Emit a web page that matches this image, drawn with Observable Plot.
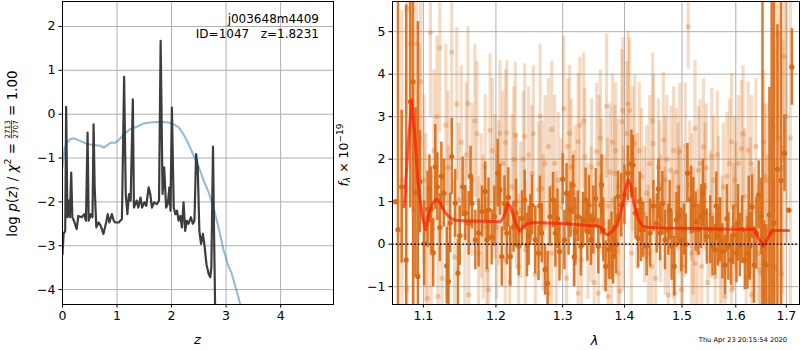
<!DOCTYPE html>
<html><head><meta charset="utf-8">
<script src="https://cdn.jsdelivr.net/npm/d3@7"></script>
<script src="https://cdn.jsdelivr.net/npm/@observablehq/plot@0.6"></script>
<style>
body{margin:0;background:#fff;}
#wrap{position:relative;width:800px;height:350px;overflow:hidden;background:#fff;font-family:"DejaVu Sans",sans-serif;}
#wrap svg{position:absolute;top:0;}
</style></head><body><div id="wrap"></div>
<script>
// ---------- left panel: log p(z) ----------
const zTicks = [0, 1, 2, 3, 4];
const pzTicks = [-4, -3, -2, -1, 0, 1, 2];
const pzZ = [0,0.02,0.05,0.067,0.09,0.116,0.135,0.16,0.18,0.21,0.26,0.29,0.35,0.40,0.43,0.46,0.48,0.52,0.55,0.57,0.59,0.62,0.66,0.70,0.75,0.80,0.83,0.86,0.905,0.94,0.97,1.03,1.09,1.13,1.16,1.19,1.22,1.25,1.29,1.31,1.36,1.39,1.43,1.46,1.50,1.535,1.58,1.61,1.64,1.68,1.73,1.77,1.80,1.835,1.865,1.90,1.93,1.96,1.98,2.006,2.04,2.07,2.10,2.13,2.16,2.19,2.22,2.25,2.28,2.31,2.355,2.39,2.42,2.45,2.48,2.51,2.54,2.575,2.605,2.64,2.68,2.71,2.73,2.76,2.78,2.80,2.82];
const pzLog = [-3.2,-2.73,-2.66,0.17,-2.35,-1.97,-2.35,-1.33,-2.35,-2.43,-2.62,-2.32,-2.35,-2.28,-2.43,-0.42,-2.43,-2.28,-2.35,-0.23,-1.67,-2.58,-2.47,-2.54,-2.73,-2.47,-2.28,-2.47,-2.28,-2.43,-2.47,-2.47,-2.39,0.85,-1.82,-2.28,-1.82,-1.97,0.34,-2.13,-1.97,-2.13,-1.90,-2.13,-2.01,-2.09,-1.67,-1.82,-2.13,-2.01,-2.05,-1.97,1.67,-1.82,-1.21,-2.13,-2.05,-1.67,-2.2,0.15,-2.13,-2.28,-2.2,-2.43,-2.32,-2.58,-2.01,-2.66,-2.43,-2.5,-2.35,-2.5,-2.43,-0.91,-1.21,-2.66,-2.96,-2.73,-3.0,-3.42,-3.64,-3.72,-3.49,-0.74,-2.73,-4.5,-7];
const priorZ = [0,0.04,0.08,0.14,0.21,0.32,0.45,0.57,0.69,0.76,0.83,0.875,0.97,1.03,1.12,1.24,1.36,1.49,1.61,1.79,1.95,2.04,2.13,2.22,2.31,2.40,2.50,2.59,2.68,2.77,2.86,2.95,3.05,3.10,3.14,3.21,3.26,3.32];
const priorLog = [-1.21,-0.76,-0.65,-0.57,-0.55,-0.61,-0.68,-0.70,-0.72,-0.76,-0.70,-0.65,-0.65,-0.59,-0.46,-0.34,-0.29,-0.21,-0.19,-0.17,-0.19,-0.23,-0.30,-0.46,-0.68,-0.93,-1.21,-1.52,-1.78,-2.13,-2.58,-3.08,-3.49,-3.62,-3.80,-4.10,-4.34,-4.63];

// ---------- right panel: spectrum ----------
const waveTicks = [1.1, 1.2, 1.3, 1.4, 1.5, 1.6, 1.7];
const fluxTicks = [-1, 0, 1, 2, 3, 4, 5];
const modelWave = [1.0749,1.0800,1.0847,1.0886,1.0930,1.0986,1.1031,1.1075,1.1119,1.1177,1.1231,1.1298,1.1366,1.1435,1.1549,1.1782,1.2067,1.2115,1.2173,1.2213,1.2286,1.2349,1.2398,1.2458,1.2559,1.3021,1.3550,1.3604,1.3669,1.3724,1.3796,1.3878,1.3962,1.4018,1.4063,1.4103,1.4159,1.4227,1.4302,1.4388,1.4679,1.5277,1.5900,1.6359,1.6444,1.6530,1.6609,1.6709,1.7047];
const modelFlux = [0.88,2.29,3.39,2.61,1.43,0.65,0.34,0.73,0.96,1.06,0.95,0.73,0.61,0.56,0.55,0.54,0.53,0.65,0.95,0.88,0.49,0.30,0.41,0.48,0.51,0.48,0.43,0.40,0.26,0.22,0.30,0.45,0.88,1.31,1.51,1.39,0.96,0.61,0.43,0.40,0.38,0.37,0.35,0.35,0.14,-0.05,0.10,0.32,0.32];

const darkWave = [1.067,1.0717,1.0775,1.0829,1.0865,1.0897,1.0928,1.0955,1.1009,1.1056,1.1102,1.1158,1.1186,1.1219,1.1274,1.1312,1.1335,1.1381,1.1428,1.1465,1.1530,1.1567,1.1614,1.1660,1.1707,1.1753,1.1800,1.1846,1.1893,1.1939,1.1977,1.2025,1.2059,1.2084,1.2124,1.2158,1.2208,1.2257,1.2292,1.2332,1.2381,1.2421,1.2455,1.2505,1.2530,1.2579,1.2629,1.2678,1.2728,1.2767,1.2802,1.2851,1.2886,1.2950,1.3000,1.3027,1.3092,1.3124,1.3162,1.3200,1.3243,1.3287,1.3325,1.3362,1.3416,1.3449,1.3487,1.3525,1.3568,1.3611,1.3649,1.3687,1.3741,1.3784,1.3811,1.3838,1.3892,1.3946,1.4000,1.4058,1.4116,1.4145,1.4186,1.4232,1.4279,1.4319,1.4377,1.4436,1.4494,1.4552,1.4610,1.4651,1.4697,1.4756,1.4814,1.4861,1.4901,1.4942,1.4988,1.5037,1.5099,1.5161,1.5205,1.5248,1.5298,1.5348,1.5410,1.5453,1.5516,1.5559,1.5609,1.5658,1.5702,1.5745,1.5795,1.5857,1.5907,1.5950,1.6013,1.6077,1.6123,1.6174,1.6226,1.6271,1.6316,1.6355,1.6400,1.6445,1.6497,1.6548,1.6594,1.6658,1.6703,1.6819,1.6961,1.7113,
  1.1080,1.1130,1.1240,1.1360,1.1490,1.1640,1.1870,1.2180,1.2480,1.2650,1.2920,1.3060,1.3180,1.3390,1.3620,1.3860,1.4260,1.4580,1.4780,1.5070,1.5380,1.5630,1.5830,1.6040,1.6250,1.6520,1.6750,1.6890,1.7050,1.0640];
const darkFlux = [0.34,1.35,-0.37,3.35,3.82,1.21,-0.76,1.47,0.02,0.82,0.82,1.82,1.35,0.39,1.20,-0.51,-0.88,2.06,0.96,-0.68,1.35,0.73,0.49,0.96,0.10,0.26,0.77,1.24,0.81,0.16,0.65,1.67,1.28,-0.29,0.96,0.26,-0.29,0.41,0.73,-0.05,0.61,1.04,-0.02,0.57,0.92,0.10,-0.21,0.26,-0.60,-0.92,0.65,1.04,0.26,-0.17,1.53,0.10,0.49,0.81,1.39,0.30,0.65,-0.05,0.57,1.04,0.92,0.10,0.57,1.08,-0.05,0.92,0.34,-0.52,-0.13,-0.04,-0.29,0.41,1.12,0.92,1.16,1.67,1.89,1.86,0.73,0.14,0.34,0.34,-0.05,0.26,0.90,0.49,0.26,0.96,0.10,0.34,-0.05,-0.52,0.57,0.67,0.10,0.34,1.67,1.04,0.92,0.53,0.34,0.65,0.73,0.18,0.34,-0.05,-0.13,0.18,0.34,-0.17,-0.49,-0.05,-0.37,0.22,-0.21,-0.02,0.34,-0.37,-0.21,-0.05,0.88,-0.49,0.26,1.16,0.65,-0.45,-0.49,0.69,0.26,1.76,2.14,4.17,
  1.3,-0.2,1.6,0.5,0.2,1.6,0.1,1.1,0.2,0.9,0.6,1.2,-0.3,0.3,1.4,0.0,1.0,1.3,0.8,0.0,1.2,0.9,0.6,0.5,0.4,0.1,0.5,1.5,0.8,1.0];
const darkErr = [6,1.8,6,2.5,6,2.0,6,1.2,1.0,0.9,1.0,1.0,0.8,0.8,0.8,0.9,0.9,0.9,0.8,0.8,0.7,0.65,0.75,0.6,0.7,0.8,0.6,0.7,0.75,0.65,0.7,0.8,0.6,0.7,0.65,0.75,0.7,0.6,0.8,0.7,0.65,0.7,0.75,0.6,0.7,0.8,0.65,0.7,0.6,0.75,0.7,0.65,0.8,0.7,0.6,0.7,0.75,0.65,0.7,0.8,0.6,0.7,0.65,0.75,0.7,0.6,0.8,0.7,0.65,0.7,0.75,0.6,0.7,0.8,0.65,0.7,0.6,0.75,0.7,0.65,0.8,0.7,0.6,0.7,0.75,0.65,0.7,0.8,0.6,0.7,0.65,0.75,0.7,0.6,0.8,0.7,0.65,0.7,0.75,0.6,0.7,0.8,0.65,0.7,0.6,0.75,0.7,0.65,0.8,0.7,0.6,0.7,0.75,0.65,0.7,0.8,0.6,0.7,0.7,0.75,0.8,0.7,0.85,0.8,0.75,0.9,0.85,0.8,0.9,1.0,0.95,3.0,6,3.4,
  0.9,0.9,0.8,0.8,0.8,0.7,0.7,0.7,0.7,0.7,0.7,0.7,0.7,0.7,0.7,0.7,0.7,0.7,0.7,0.7,0.7,0.7,0.8,0.8,0.8,0.9,1.2,6,6,6];

const lightWave = [1.0784,1.0829,1.0910,1.0964,1.1093,1.1219,1.1381,1.1605,1.1916,1.2059,1.2158,1.2282,1.2421,1.2653,1.2728,1.2876,1.3016,1.3108,1.3243,1.3351,1.3541,1.3703,1.3838,1.3957,1.3973,1.4087,1.4174,1.4494,1.4668,1.4802,1.4959,1.5112,1.5236,1.5391,1.5547,1.5919,1.6110,1.6239,1.6303,1.6755,1.6819,1.6948,1.0784,1.1056,1.1195,1.1614,1.1893,1.2134,1.2431,1.2777,1.3243,1.3568,1.3730,1.3892,1.4116,1.4465,1.4756,1.4872,1.4988,1.5236,1.5360,1.5609,1.5795,1.5919,1.6303,1.6497,1.6755,1.1009,1.1102,1.1335,1.1474,1.1660,1.1753,1.1846,1.1986,1.2233,1.2332,1.2530,1.2629,1.2827,1.2975,1.3135,1.3297,1.3460,1.3622,1.3784,1.3892,1.4290,1.4407,1.4581,1.4697,1.4930,1.5050,1.5174,1.5298,1.5422,1.5671,1.5764,1.5981,1.6174,1.6432,1.6561,1.6690,
  1.1030,1.1140,1.1250,1.1300,1.1420,1.1510,1.1560,1.1700,1.1790,1.1870,1.1950,1.2010,1.2100,1.2200,1.2260,1.2360,1.2480,1.2580,1.2700,1.2780,1.2930,1.3060,1.3180,1.3270,1.3400,1.3500,1.3580,1.3660,1.3760,1.3850,1.3920,1.4040,1.4140,1.4210,1.4340,1.4430,1.4530,1.4620,1.4730,1.4840,1.4900,1.5010,1.5140,1.5200,1.5330,1.5470,1.5580,1.5700,1.5830,1.5960,1.6050,1.6200,1.6280,1.6390,1.6470,1.6600,1.6650,1.6850,1.6900,1.7000,1.0720,1.0870,
  1.0950,1.1180,1.1330,1.1450,1.1580,1.1730,1.1820,1.2040,1.2140,1.2300,1.2400,1.2550,1.2680,1.2830,1.2900,1.3080,1.3200,1.3330,1.3450,1.3600,1.3720,1.3800,1.3980,1.4060,1.4250,1.4380,1.4480,1.4600,1.4700,1.4850,1.4950,1.5060,1.5180,1.5290,1.5440,1.5520,1.5650,1.5740,1.5880,1.6000,1.6140,1.6340,1.6540,1.6620,1.6720,1.6790,1.6930,1.7080];
const lightFlux = [5.54,4.72,4.72,3.82,4.98,4.62,4.52,3.31,2.68,2.61,2.62,2.57,2.54,3.01,1.90,1.90,3.19,2.61,2.41,2.06,2.18,3.25,1.67,2.88,3.15,3.15,2.37,2.37,2.45,1.74,2.18,5.12,2.72,2.29,2.07,2.41,2.25,2.21,1.90,2.76,4.95,4.42,-1.07,-1.27,-1.23,-1.19,-1.07,-0.37,-0.13,-1.15,-1.15,-1.15,-1.23,-0.68,-0.21,-0.52,-1.19,-1.15,-1.07,-0.45,-0.52,-0.76,-1.23,-1.07,-1.19,-0.68,-0.52,1.51,-0.21,0.41,1.04,1.51,-0.21,1.82,1.35,1.35,-0.52,1.67,1.28,-0.21,0.88,1.82,-0.37,1.82,1.35,-0.52,1.35,1.59,-0.21,1.82,1.51,1.35,0.73,-0.21,1.74,1.35,1.04,1.35,1.51,1.12,-0.21,1.59,0.96,
  0.6,2.2,-0.8,2.8,-0.3,2.4,0.2,2.9,0.9,-0.6,2.2,0.4,1.9,-0.9,2.0,0.8,2.1,-0.7,0.5,2.3,1.5,-0.8,0.6,2.8,0.3,-0.9,1.9,0.5,1.7,2.2,-1.1,2.6,2.0,1.0,0.7,1.9,-0.8,0.6,2.0,0.2,1.7,-0.5,1.4,0.3,1.9,-0.9,1.5,-0.4,1.6,0.4,1.9,-0.8,0.9,2.3,-0.6,1.5,-1.3,2.5,-0.7,3.0,1.5,0.8,
  2.5,3.0,1.8,3.3,2.1,2.6,0.4,1.2,2.4,1.0,2.0,2.6,1.3,2.7,0.1,2.3,1.2,2.9,0.7,2.5,0.9,2.4,0.6,3.3,2.2,1.2,2.9,1.4,0.3,2.2,0.8,2.3,1.1,-0.2,1.8,0.7,2.1,0.1,1.9,0.9,2.6,0.2,2.4,0.3,2.9,-0.6,1.8,2.5];
const lightErr = [2.5,2.5,2.2,2.2,2.0,2.0,2.0,1.8,1.8,1.7,1.7,1.7,1.7,1.7,1.6,1.6,1.7,1.6,1.6,1.6,1.6,1.7,1.6,1.7,1.7,1.7,1.6,1.6,1.6,1.5,1.6,1.0,1.6,1.6,1.6,1.6,1.6,1.6,1.6,2.0,2.5,2.5,2.5,2.0,1.9,1.8,1.7,1.7,1.6,1.6,1.6,1.6,1.6,1.6,1.6,1.6,1.5,1.5,1.5,1.5,1.5,1.5,1.5,1.5,1.6,1.7,2.0,2.0,1.9,1.9,1.8,1.8,1.8,1.7,1.7,1.7,1.7,1.6,1.6,1.6,1.6,1.6,1.6,1.6,1.6,1.6,1.6,1.6,1.6,1.6,1.5,1.5,1.5,1.5,1.5,1.5,1.5,1.5,1.5,1.6,1.6,1.7,1.9,
  2.0,1.9,1.9,1.9,1.8,1.8,1.8,1.8,1.7,1.7,1.7,1.7,1.7,1.7,1.7,1.6,1.6,1.6,1.6,1.6,1.6,1.6,1.6,1.6,1.6,1.6,1.6,1.6,1.6,1.6,1.6,1.7,1.7,1.6,1.6,1.6,1.6,1.5,1.5,1.5,1.5,1.5,1.5,1.5,1.5,1.5,1.5,1.5,1.5,1.5,1.6,1.6,1.6,1.6,1.7,1.8,1.9,2.5,3,3,4,3,
  2.2,1.9,1.8,1.8,1.7,1.7,1.7,1.7,1.7,1.6,1.6,1.6,1.6,1.6,1.6,1.6,1.6,1.6,1.6,1.6,1.6,1.6,1.7,1.7,1.6,1.6,1.6,1.5,1.5,1.5,1.5,1.5,1.5,1.5,1.5,1.5,1.5,1.5,1.5,1.5,1.6,1.6,1.7,1.8,2.2,2.6,3.0,4.0];

// ---------- build ----------
const wrap = document.getElementById("wrap");
const grid = {stroke: "#b0b0b0", strokeOpacity: 1, strokeWidth: 1};
const font = {fontFamily: "DejaVu Sans", fontSize: "12.5px", color: "black", background: "white", overflow: "visible"};

const pz = pzZ.map((z, i) => ({z, v: pzLog[i]}));
const prior = priorZ.map((z, i) => ({z, v: priorLog[i]}));

const left = Plot.plot({
  width: 340, height: 350,
  marginLeft: 62, marginRight: 7, marginTop: 1, marginBottom: 46,
  style: font,
  x: {domain: [0, 4.97], ticks: zTicks, tickFormat: "d", tickSize: 3.5, tickPadding: 3, label: null},
  y: {domain: [-4.34, 2.57], ticks: pzTicks, tickFormat: "d", tickSize: 3.5, tickPadding: 3.5, label: null},
  marks: [
    Plot.gridX(zTicks, grid),
    Plot.gridY(pzTicks, grid),
    Plot.line(prior, {x: "z", y: "v", stroke: "#1f77b4", strokeOpacity: 0.5, strokeWidth: 2, clip: true}),
    Plot.line(pz, {x: "z", y: "v", stroke: "#333333", strokeOpacity: 0.95, strokeWidth: 2.2, clip: true}),
    Plot.frame({stroke: "black", strokeWidth: 1})
  ]
});
left.style.left = "0px";
wrap.appendChild(left);

const model = modelWave.map((w, i) => ({w, f: modelFlux[i]}));
const dark = darkWave.map((w, i) => ({w, f: darkFlux[i], e: darkErr[i]}));
const light = lightWave.map((w, i) => ({w, f: lightFlux[i], e: lightErr[i]}));
const orange = "#d96a14";

const right = Plot.plot({
  width: 460, height: 350,
  marginLeft: 52, marginRight: 1, marginTop: 1, marginBottom: 46,
  style: font,
  x: {type: "log", domain: [1.06, 1.727], ticks: waveTicks, tickFormat: d3.format(".1f"), tickSize: 3.5, tickPadding: 3, label: null},
  y: {domain: [-1.42, 5.71], ticks: fluxTicks, tickFormat: "d", tickSize: 3.5, tickPadding: 3.5, label: null},
  marks: [
    Plot.gridX(waveTicks, grid),
    Plot.gridY(fluxTicks, grid),
    Plot.ruleX(light, {x: "w", y1: d => d.f - d.e, y2: d => d.f + d.e, stroke: orange, strokeOpacity: 0.25, strokeWidth: 3.2, clip: true}),
    Plot.dot(light, {x: "w", y: "f", r: 2.6, fill: orange, fillOpacity: 0.3, stroke: "none", clip: true}),
    Plot.ruleX(dark, {x: "w", y1: d => d.f - d.e, y2: d => d.f + d.e, stroke: orange, strokeOpacity: 0.9, strokeWidth: 2.5, clip: true}),
    Plot.dot(dark, {x: "w", y: "f", r: 2.6, fill: orange, stroke: "none", clip: true}),
    Plot.line(model, {x: "w", y: "f", stroke: "#ff1a00", strokeOpacity: 0.7, strokeWidth: 3, clip: true}),
    Plot.ruleY([0], {stroke: "black", strokeWidth: 1.5, strokeDasharray: "1.5,2.2"}),
    Plot.frame({stroke: "black", strokeWidth: 1})
  ]
});
right.style.left = "340px";
wrap.appendChild(right);

// ---------- texts ----------
const L = d3.select(left);
L.append("text").attr("x", 319).attr("y", 23).attr("text-anchor", "end").attr("font-size", 12).text("j003648m4409");
L.append("text").attr("x", 319).attr("y", 38).attr("text-anchor", "end").attr("font-size", 12).style("white-space", "pre").text("ID=1047   z=1.8231");
L.append("text").attr("x", 197.5).attr("y", 344).attr("text-anchor", "middle").attr("font-size", 13).attr("font-style", "italic").text("z");

// y label: log p(z) / χ² = 2713/2707 = 1.00
const tA = L.append("text").attr("transform", "translate(12,153.5) rotate(-90)")
  .attr("x", 0).attr("y", 4.8).attr("text-anchor", "middle").attr("font-size", 13.5).style("white-space", "pre");
tA.append("tspan").text("log ");
tA.append("tspan").attr("font-style", "italic").text("p");
tA.append("tspan").text("(");
tA.append("tspan").attr("font-style", "italic").text("z");
tA.append("tspan").text(") / ");
tA.append("tspan").attr("font-style", "italic").text("χ");
tA.append("tspan").attr("font-size", 9.5).attr("dy", -5.5).text("2");
tA.append("tspan").attr("dy", 5.5).text(" = ");
tA.append("tspan").attr("font-size", 7.2).attr("dy", -6.5).text("2713");
tA.append("tspan").attr("font-size", 7.2).attr("dx", -18.3).attr("dy", 7.6).style("text-decoration", "overline").text("2707");
tA.append("tspan").attr("dy", -1.1).text(" = 1.00");

const R = d3.select(right);
R.append("text").attr("x", 254.5).attr("y", 345).attr("text-anchor", "middle").attr("font-size", 13).attr("font-style", "italic").text("λ");
const t2 = R.append("text").attr("transform", "translate(3,155) rotate(-90)")
  .attr("x", 0).attr("y", 4.5).attr("text-anchor", "middle").attr("font-size", 12.5).style("white-space", "pre");
t2.append("tspan").attr("font-style", "italic").text("f");
t2.append("tspan").attr("font-style", "italic").attr("font-size", 9).attr("dy", 2.5).text("λ");
t2.append("tspan").attr("dy", -2.5).text(" × 10");
t2.append("tspan").attr("font-size", 9).attr("dy", -5).text("−19");
R.append("text").attr("x", 447).attr("y", 342).attr("text-anchor", "end").attr("font-size", 6.7).text("Thu Apr 23 20:15:54 2020");
</script></body></html>
